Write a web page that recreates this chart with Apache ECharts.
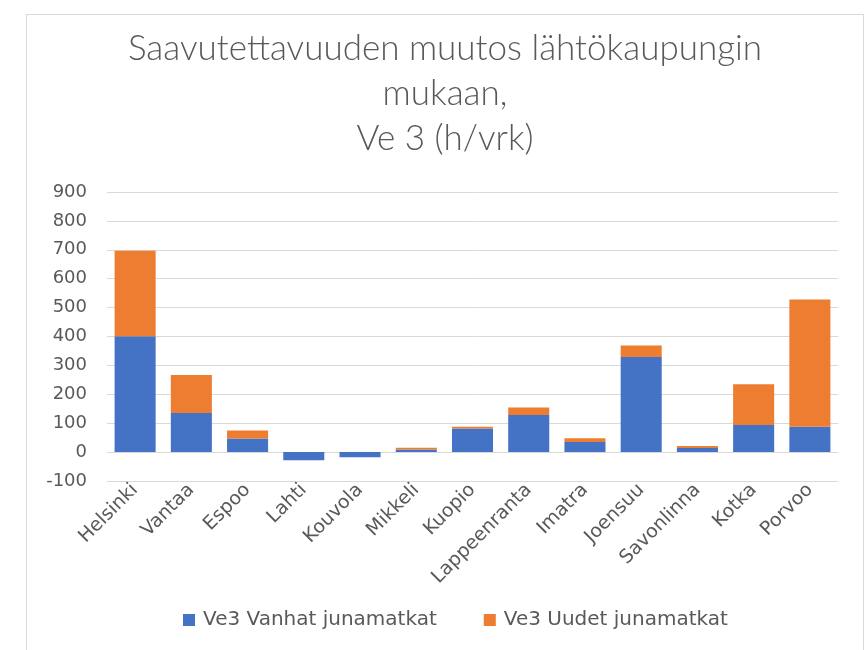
<!DOCTYPE html>
<html>
<head>
<meta charset="utf-8">
<script src="https://cdn.jsdelivr.net/npm/echarts@6/dist/echarts.min.js"></script>
<style>
  html, body { margin: 0; padding: 0; background: #fff; }
  #frame {
    position: absolute; left: 26px; top: 14px;
    width: 836px; height: 660px;
    border: 1px solid #d9d9d9;
  }
  #main { width: 836px; height: 660px; }
</style>
</head>
<body>
<div id="frame"><div id="main"></div></div>
<script>
// kaupungit
var cities = ['Helsinki', 'Vantaa', 'Espoo', 'Lahti', 'Kouvola', 'Mikkeli', 'Kuopio',
  'Lappeenranta', 'Imatra', 'Joensuu', 'Savonlinna', 'Kotka', 'Porvoo'];
// Ve3 Vanhat junamatkat (h/vrk)
var oldTrips = [401, 135, 47, -28, -18, 9, 82, 128, 35, 329, 14, 94, 88];
// Ve3 Uudet junamatkat (h/vrk)
var newTrips = [296, 132, 28, 0, 0, 6, 6, 26, 13, 40, 7, 141, 440];
var yTicks = { min: -100, max: 900, step: 100 };

var chart = echarts.init(document.getElementById('main'));
var grey = '#595959';

chart.setOption({
  animation: false,
  title: {
    text: 'Saavutettavuuden muutos lähtökaupungin\nmukaan,\nVe 3 (h/vrk)',
    left: 'center',
    top: 11,
    padding: 0,
    textStyle: {
      fontFamily: 'Lato',
      fontWeight: 300,
      fontSize: 35,
      lineHeight: 45,
      color: grey
    }
  },
  legend: {
    data: ['Ve3 Vanhat junamatkat', 'Ve3 Uudet junamatkat'],
    left: 156,
    top: 595,
    padding: 0,
    itemWidth: 12,
    itemHeight: 12,
    itemGap: 47,
    icon: 'rect',
    textStyle: { fontFamily: 'DejaVu Sans', fontSize: 20, color: grey, padding: [0, 0, 0, 3] }
  },
  grid: { left: 80, right: 25, top: 177, bottom: 194, containLabel: false },
  xAxis: {
    type: 'category',
    data: cities,
    axisLine: { show: false, onZero: false },
    axisTick: { show: false },
    axisLabel: {
      interval: 0,
      rotate: 45,
      margin: 6,
      fontFamily: 'DejaVu Sans',
      fontSize: 19,
      color: grey
    }
  },
  yAxis: {
    type: 'value',
    min: yTicks.min,
    max: yTicks.max,
    interval: yTicks.step,
    axisLine: { show: false },
    axisTick: { show: false },
    axisLabel: { margin: 20, fontFamily: 'DejaVu Sans', fontSize: 18, color: grey },
    splitLine: { lineStyle: { color: '#d9d9d9', width: 1 } }
  },
  series: [{
    name: 'Ve3 Vanhat junamatkat',
    type: 'bar',
    stack: 've3',
    barCategoryGap: '27%',
    itemStyle: { color: '#4472C4' },
    data: oldTrips
  }, {
    name: 'Ve3 Uudet junamatkat',
    type: 'bar',
    stack: 've3',
    barCategoryGap: '27%',
    itemStyle: { color: '#ED7D31' },
    data: newTrips
  }]
});
</script>
</body>
</html>
